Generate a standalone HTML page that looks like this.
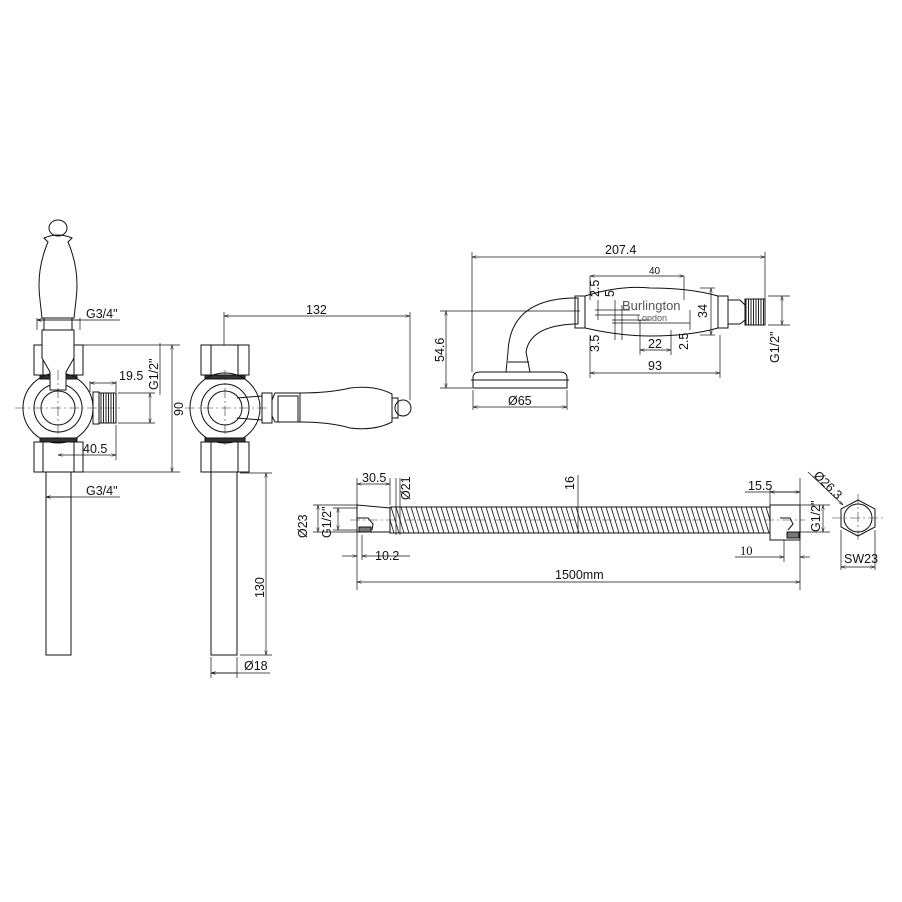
<!DOCTYPE html>
<html><head><meta charset="utf-8"><style>
html,body{margin:0;padding:0;background:#fff;}
svg{display:block;}
text{font-family:"Liberation Sans",sans-serif;font-size:12.5px;fill:#111;}
</style></head><body>
<svg width="902" height="902" viewBox="0 0 902 902" xmlns="http://www.w3.org/2000/svg">
<defs>
<pattern id="hose" width="5" height="26" patternUnits="userSpaceOnUse" patternTransform="translate(0,507)">
<line x1="-4" y1="0" x2="4" y2="26" stroke="#222" stroke-width="0.9"/>
<line x1="1" y1="0" x2="9" y2="26" stroke="#222" stroke-width="0.9"/>
</pattern>
<pattern id="thr" width="2.5" height="10" patternUnits="userSpaceOnUse"><line x1="1" y1="0" x2="1" y2="10" stroke="#222" stroke-width="1"/></pattern>
<marker id="a" viewBox="0 0 10 6" refX="10" refY="3" markerWidth="8" markerHeight="4" orient="auto-start-reverse"><path d="M0,0 L10,3 L0,6" fill="none" stroke="#111" stroke-width="1"/></marker>
</defs>
<g fill="none" stroke="#111" stroke-width="1">
<!-- LEFT VIEW -->
<ellipse cx="58" cy="228" rx="9" ry="8"/>
<path d="M44,238 Q58,232 72,238 L68,242 Q80,270 76,300 L74,318 L42,318 L40,300 Q36,270 48,242 Z"/>
<rect x="34" y="345" width="49" height="30"/>
<line x1="43" y1="345" x2="43" y2="375"/><line x1="74" y1="345" x2="74" y2="375"/>
<rect x="40" y="375" width="37" height="4" fill="#333"/>
<circle cx="58" cy="408" r="35"/>
<circle cx="58" cy="408" r="24"/>
<circle cx="58" cy="408" r="17"/>
<path d="M44,318 L72,318 L72,330 L74,330 L74,358 L66,372 L66,390 L50,390 L50,372 L42,358 L42,330 L44,330 Z" fill="#fff"/>
<line x1="42" y1="330" x2="74" y2="330"/>
<rect x="93" y="392" width="6" height="32"/>
<rect x="99" y="393" width="17" height="30" fill="url(#thr)"/>
<rect x="40" y="438" width="37" height="4" fill="#333"/>
<rect x="34" y="442" width="49" height="30"/>
<line x1="43" y1="442" x2="43" y2="472"/><line x1="74" y1="442" x2="74" y2="472"/>
<rect x="46" y="472" width="25" height="183"/>
<!-- MID VIEW -->
<rect x="201" y="345" width="48" height="30"/>
<line x1="211" y1="345" x2="211" y2="375"/><line x1="238" y1="345" x2="238" y2="375"/>
<rect x="205" y="375" width="40" height="4" fill="#333"/>
<circle cx="225" cy="408" r="35"/>
<circle cx="225" cy="408" r="24"/>
<circle cx="225" cy="408" r="17"/>
<path d="M237,398 L262,396 L262,420 L237,418"/>
<rect x="262" y="393" width="10" height="30"/>
<path d="M272,400 L275,393 L300,393 L300,422 L275,422 L272,416"/>
<rect x="278" y="396" width="20" height="26"/>
<path d="M300,393 Q330,393 350,388 Q375,385 392,394 L392,422 Q375,431 350,428 Q330,422 300,422"/>
<rect x="392" y="398" width="6" height="20"/>
<circle cx="403" cy="408" r="8"/>
<rect x="205" y="438" width="40" height="4" fill="#333"/>
<rect x="201" y="442" width="48" height="30"/>
<line x1="211" y1="442" x2="211" y2="472"/><line x1="238" y1="442" x2="238" y2="472"/>
<rect x="211" y="472" width="26" height="183"/>
<!-- HAND SHOWER -->
<path d="M473,378 Q473,372 480,372 L560,372 Q567,372 567,378 L567,388 L473,388 Z"/>
<line x1="471" y1="380" x2="569" y2="380"/>
<path d="M506,372 L508,352 Q510,300 572,298 L578,298 L578,324 L574,324 Q530,326 526,352 L530,372"/>
<line x1="508" y1="362" x2="529" y2="362"/>
<rect x="575" y="296" width="10" height="32"/>
<path d="M585,296 Q620,285 650,288 Q690,288 718,296 L718,328 Q690,336 650,336 Q620,336 585,328 Z"/>
<rect x="718" y="296" width="10" height="32"/>
<path d="M728,300 L740,300 L745,305 L745,320 L740,324 L728,324"/>
<rect x="745" y="299" width="20" height="26" fill="url(#thr)"/>
<!-- HOSE -->
<path d="M357,505 L390,508 L390,532 L357,532 Z"/>
<path d="M357,518 L368,518 L373,524 L372,530"/>
<rect x="359" y="527" width="12" height="5" fill="#777"/>
<rect x="390" y="507" width="380" height="26" fill="url(#hose)"/>
<rect x="390" y="507" width="380" height="26"/>
<rect x="770" y="505" width="30" height="35"/>
<path d="M780,518 L790,518 L793,524 L788,530"/>
<rect x="787" y="532" width="12" height="6" fill="#777"/>
<polygon points="858,500 875,509 875,527 858,536 841,527 841,509"/>
<circle cx="858" cy="518" r="14"/>
</g>
<g stroke="#333" stroke-width="0.6" fill="none" stroke-dasharray="10,3,2,3">
<line x1="15" y1="408" x2="120" y2="408"/><line x1="58" y1="370" x2="58" y2="440"/>
<line x1="185" y1="408" x2="268" y2="408"/><line x1="225" y1="370" x2="225" y2="445"/>
<line x1="350" y1="520" x2="805" y2="520"/>
<line x1="832" y1="518" x2="884" y2="518"/><line x1="858" y1="494" x2="858" y2="542"/>
</g>
<g stroke="#111" stroke-width="0.7" fill="none">
<line x1="37" y1="330" x2="37" y2="318"/><line x1="80" y1="330" x2="80" y2="318"/>
<line x1="37" y1="320" x2="120" y2="320" marker-start="url(#a)"/>
<line x1="80" y1="320" x2="37" y2="320" marker-end="url(#a)"/>
<line x1="160" y1="343" x2="160" y2="395"/>
<line x1="150" y1="393" x2="150" y2="423" marker-start="url(#a)" marker-end="url(#a)"/>
<line x1="118" y1="393" x2="155" y2="393"/><line x1="118" y1="423" x2="155" y2="423"/>
<line x1="90" y1="381" x2="90" y2="392"/><line x1="116" y1="381" x2="116" y2="392"/>
<line x1="90" y1="383" x2="116" y2="383" marker-start="url(#a)" marker-end="url(#a)"/>
<line x1="58" y1="455" x2="116" y2="455" marker-start="url(#a)" marker-end="url(#a)"/>
<line x1="116" y1="425" x2="116" y2="460"/>
<line x1="83" y1="345" x2="180" y2="345"/><line x1="83" y1="472" x2="180" y2="472"/>
<line x1="172" y1="345" x2="172" y2="472" marker-start="url(#a)" marker-end="url(#a)"/>
<line x1="46" y1="475" x2="46" y2="500"/><line x1="71" y1="475" x2="71" y2="500"/>
<line x1="46" y1="497" x2="120" y2="497" marker-start="url(#a)"/><line x1="71" y1="497" x2="46" y2="497" marker-end="url(#a)"/>
<line x1="224" y1="312" x2="224" y2="345"/><line x1="410" y1="312" x2="410" y2="400"/>
<line x1="224" y1="316" x2="410" y2="316" marker-start="url(#a)" marker-end="url(#a)"/>
<line x1="240" y1="473" x2="272" y2="473"/><line x1="240" y1="655" x2="272" y2="655"/>
<line x1="266" y1="473" x2="266" y2="655" marker-start="url(#a)" marker-end="url(#a)"/>
<line x1="211" y1="657" x2="211" y2="678"/><line x1="237" y1="657" x2="237" y2="678"/>
<line x1="211" y1="673" x2="270" y2="673" marker-start="url(#a)"/><line x1="237" y1="673" x2="211" y2="673" marker-end="url(#a)"/>
<line x1="472" y1="252" x2="472" y2="372"/><line x1="765" y1="252" x2="765" y2="300"/>
<line x1="472" y1="257" x2="765" y2="257" marker-start="url(#a)" marker-end="url(#a)"/>
<line x1="440" y1="311" x2="580" y2="311"/><line x1="440" y1="388" x2="472" y2="388"/>
<line x1="446" y1="311" x2="446" y2="388" marker-start="url(#a)" marker-end="url(#a)"/>
<line x1="473" y1="390" x2="473" y2="410"/><line x1="567" y1="390" x2="567" y2="410"/>
<line x1="473" y1="407" x2="567" y2="407" marker-start="url(#a)" marker-end="url(#a)"/>
<line x1="590" y1="276" x2="590" y2="300"/><line x1="684" y1="276" x2="684" y2="300"/>
<line x1="590" y1="276" x2="684" y2="276" marker-start="url(#a)" marker-end="url(#a)"/>
<line x1="590" y1="373" x2="720" y2="373" marker-start="url(#a)" marker-end="url(#a)"/>
<line x1="590" y1="335" x2="590" y2="378"/><line x1="720" y1="335" x2="720" y2="378"/>
<line x1="640" y1="350" x2="671" y2="350" marker-start="url(#a)" marker-end="url(#a)"/>
<line x1="640" y1="320" x2="640" y2="355"/><line x1="671" y1="330" x2="671" y2="355"/>
<line x1="700" y1="288" x2="715" y2="288"/><line x1="700" y1="335" x2="715" y2="335"/>
<line x1="711" y1="288" x2="711" y2="335" marker-start="url(#a)" marker-end="url(#a)"/>
<line x1="598" y1="300" x2="598" y2="320"/><line x1="615" y1="300" x2="615" y2="340"/>
<line x1="622" y1="305" x2="622" y2="340"/>
<line x1="595" y1="310" x2="630" y2="310"/><line x1="595" y1="315" x2="640" y2="315"/>
<line x1="612" y1="320" x2="650" y2="320"/><line x1="612" y1="323" x2="690" y2="323"/>
<line x1="690" y1="310" x2="690" y2="330"/>
<line x1="768" y1="296" x2="790" y2="296"/><line x1="768" y1="325" x2="790" y2="325"/>
<line x1="782" y1="296" x2="782" y2="325" marker-start="url(#a)" marker-end="url(#a)"/>
<line x1="357" y1="478" x2="357" y2="590"/><line x1="390" y1="478" x2="390" y2="505"/>
<line x1="357" y1="484" x2="390" y2="484" marker-start="url(#a)" marker-end="url(#a)"/>
<line x1="396" y1="478" x2="396" y2="535"/><line x1="400" y1="478" x2="400" y2="535"/>
<line x1="578" y1="475" x2="578" y2="533"/>
<line x1="313" y1="505" x2="357" y2="505"/><line x1="313" y1="532" x2="357" y2="532"/>
<line x1="318" y1="505" x2="318" y2="532" marker-start="url(#a)" marker-end="url(#a)"/>
<line x1="338" y1="508" x2="338" y2="530" marker-start="url(#a)" marker-end="url(#a)"/>
<line x1="333" y1="508" x2="357" y2="508"/><line x1="333" y1="530" x2="357" y2="530"/>
<line x1="342" y1="556" x2="357" y2="556" marker-end="url(#a)"/>
<line x1="410" y1="556" x2="362" y2="556" marker-end="url(#a)"/>
<line x1="362" y1="535" x2="362" y2="560"/>
<line x1="357" y1="582" x2="800" y2="582" marker-start="url(#a)" marker-end="url(#a)"/>
<line x1="800" y1="478" x2="800" y2="590"/>
<line x1="745" y1="492" x2="800" y2="492"/><line x1="770" y1="488" x2="770" y2="505"/>
<line x1="770" y1="492" x2="800" y2="492" marker-start="url(#a)" marker-end="url(#a)"/>
<line x1="735" y1="557" x2="784" y2="557" marker-end="url(#a)"/>
<line x1="810" y1="557" x2="800" y2="557" marker-end="url(#a)"/>
<line x1="784" y1="540" x2="784" y2="562"/>
<line x1="800" y1="505" x2="830" y2="505"/><line x1="800" y1="532" x2="830" y2="532"/>
<line x1="823" y1="505" x2="823" y2="532" marker-start="url(#a)" marker-end="url(#a)"/>
<line x1="808" y1="472" x2="843" y2="505" marker-end="url(#a)"/>
<line x1="841" y1="530" x2="841" y2="570"/><line x1="875" y1="530" x2="875" y2="570"/>
<line x1="841" y1="567" x2="875" y2="567" marker-start="url(#a)" marker-end="url(#a)"/>
</g>
<text x="86" y="318">G3/4"</text>
<text x="119" y="380">19.5</text>
<text x="83" y="453">40.5</text>
<text x="86" y="495">G3/4"</text>
<text transform="translate(158,390) rotate(-90)">G1/2"</text>
<text transform="translate(183,416) rotate(-90)">90</text>
<text x="306" y="314">132</text>
<text transform="translate(264,598) rotate(-90)">130</text>
<text x="244" y="670">Ø18</text>
<text x="605" y="254">207.4</text>
<text x="649" y="274" style="font-size:10px">40</text>
<text transform="translate(599,297) rotate(-90)">2.5</text>
<text transform="translate(614,297) rotate(-90)">5</text>
<text x="622" y="310" style="font-size:13px;fill:#555">Burlington</text>
<text x="637" y="321" style="font-size:9px;fill:#555">London</text>
<text transform="translate(707,318) rotate(-90)">34</text>
<text transform="translate(599,352) rotate(-90)">3.5</text>
<text x="648" y="348">22</text>
<text transform="translate(688,350) rotate(-90)">2.5</text>
<text x="648" y="370">93</text>
<text transform="translate(444,362) rotate(-90)">54.6</text>
<text x="508" y="405">Ø65</text>
<text transform="translate(779,363) rotate(-90)">G1/2"</text>
<text x="362" y="482">30.5</text>
<text transform="translate(410,500) rotate(-90)">Ø21</text>
<text transform="translate(574,490) rotate(-90)">16</text>
<text transform="translate(307,538) rotate(-90)">Ø23</text>
<text transform="translate(331,538) rotate(-90)">G1/2"</text>
<text x="375" y="560">10.2</text>
<text x="555" y="579">1500mm</text>
<text x="748" y="490">15.5</text>
<text x="740" y="555" style="font-family:'Liberation Serif',serif">10</text>
<text transform="translate(820,532) rotate(-90)">G1/2"</text>
<text transform="translate(813,476) rotate(45)">Ø26.3</text>
<text x="844" y="563">SW23</text>
</svg>
</body></html>
